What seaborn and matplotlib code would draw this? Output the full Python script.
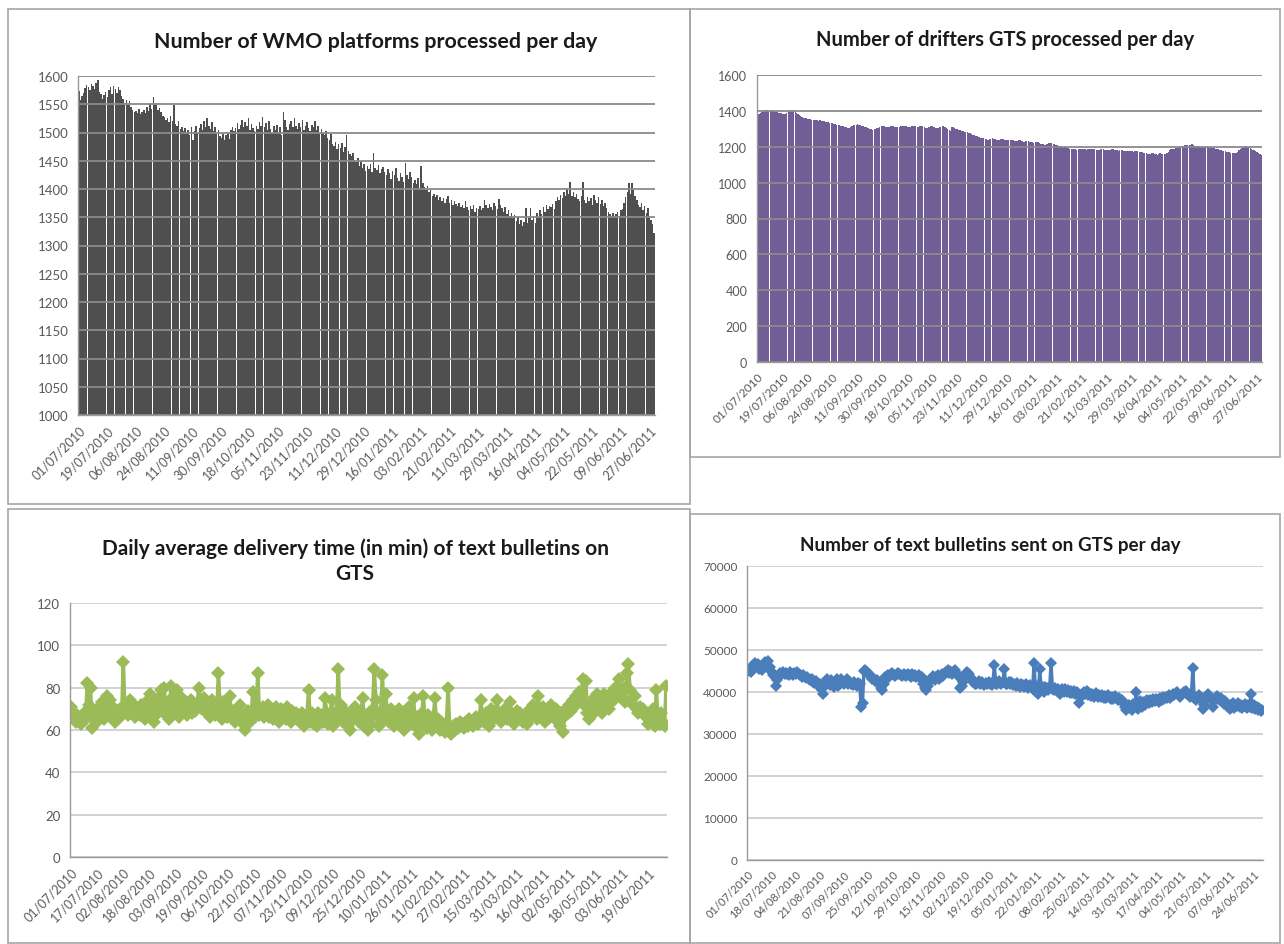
import numpy as np
import pandas as pd
import matplotlib
matplotlib.use('Agg')
import matplotlib.pyplot as plt
import seaborn as sns
from matplotlib.patches import Rectangle

sns.set_style('white')
plt.rcParams['font.family'] = ['Lato', 'DejaVu Sans']

# one value per day, 01/07/2010 - 30/06/2011 (22/09/2010 missing in the source)
days = pd.date_range('2010-07-01', '2011-06-30')
days = days[days != pd.Timestamp('2010-09-22')]
day_labels = list(days.strftime('%d/%m/%Y'))

# number of WMO platforms processed per day
wmo_counts = [
    1573, 1558, 1565, 1570, 1578, 1584, 1580, 1575, 1586, 1582, 1577, 1588, 1593, 1572,
    1568, 1560, 1566, 1571, 1562, 1575, 1580, 1568, 1583, 1577, 1570, 1581, 1576, 1565,
    1560, 1552, 1557, 1548, 1555, 1546, 1540, 1536, 1538, 1534, 1541, 1532, 1537, 1540,
    1535, 1545, 1538, 1550, 1541, 1562, 1548, 1553, 1539, 1544, 1536, 1530, 1528, 1522,
    1525, 1518, 1530, 1521, 1549, 1515, 1512, 1520, 1506, 1510, 1502, 1508, 1498, 1504,
    1495, 1510, 1487, 1503, 1512, 1500, 1508, 1515, 1505, 1520, 1509, 1525, 1511, 1507,
    1518, 1502, 1510, 1497, 1505, 1493, 1490, 1498, 1486, 1495, 1500, 1489, 1505, 1510,
    1502, 1508, 1516, 1507, 1513, 1522, 1509, 1518, 1512, 1525, 1504, 1515, 1508, 1503,
    1511, 1506, 1518, 1512, 1528, 1509, 1516, 1505, 1520, 1507, 1499, 1512, 1504, 1514,
    1500, 1509, 1496, 1537, 1522, 1510, 1505, 1515, 1520, 1509, 1526, 1512, 1506, 1516,
    1510, 1522, 1505, 1512, 1518, 1508, 1502, 1514, 1509, 1521, 1504, 1511, 1498, 1506,
    1500, 1495, 1503, 1490, 1486, 1498, 1480, 1476, 1484, 1470, 1479, 1473, 1482, 1466,
    1475, 1496, 1468, 1462, 1458, 1464, 1452, 1448, 1455, 1440, 1450, 1437, 1445, 1432,
    1440, 1436, 1445, 1430, 1463, 1438, 1433, 1442, 1428, 1435, 1439, 1430, 1425, 1436,
    1429, 1418, 1432, 1424, 1438, 1420, 1415, 1428, 1421, 1412, 1446, 1425, 1418, 1430,
    1422, 1410, 1416, 1408, 1420, 1402, 1440, 1410, 1404, 1398, 1406, 1395, 1400, 1388,
    1392, 1385, 1390, 1380, 1386, 1378, 1384, 1375, 1382, 1388, 1376, 1380, 1372, 1378,
    1374, 1370, 1376, 1368, 1372, 1366, 1378, 1369, 1363, 1370, 1365, 1372, 1360, 1367,
    1364, 1370, 1362, 1366, 1380, 1371, 1366, 1374, 1368, 1362, 1376, 1370, 1365, 1382,
    1372, 1366, 1360, 1368, 1356, 1362, 1352, 1358, 1348, 1354, 1343, 1350, 1338, 1345,
    1335, 1342, 1366, 1340, 1348, 1367, 1345, 1352, 1340, 1358, 1348, 1362, 1355, 1368,
    1360, 1372, 1365, 1370, 1368, 1374, 1365, 1378, 1385, 1380, 1390, 1384, 1395, 1388,
    1400, 1392, 1412, 1388, 1394, 1386, 1392, 1382, 1378, 1388, 1413, 1380, 1375, 1385,
    1378, 1384, 1372, 1390, 1381, 1376, 1386, 1374, 1380, 1370, 1376, 1366, 1360, 1355,
    1352, 1358, 1350, 1355, 1360, 1352, 1362, 1365, 1375, 1385, 1395, 1410, 1392, 1410,
    1398, 1388, 1380, 1372, 1368, 1375, 1362, 1370, 1358, 1366, 1348, 1345, 1338, 1322,
]

# number of drifters GTS processed per day
drifter_counts = [
    1390, 1385, 1388, 1392, 1396, 1400, 1403, 1405, 1402, 1405, 1404, 1400, 1398, 1395,
    1392, 1390, 1388, 1386, 1384, 1383, 1385, 1388, 1392, 1395, 1398, 1400, 1398, 1393,
    1388, 1382, 1376, 1370, 1366, 1362, 1360, 1358, 1356, 1354, 1352, 1351, 1350, 1349,
    1350, 1348, 1346, 1347, 1345, 1343, 1342, 1340, 1338, 1336, 1335, 1333, 1330, 1328,
    1326, 1324, 1322, 1320, 1318, 1316, 1313, 1310, 1308, 1306, 1305, 1310, 1316, 1320,
    1322, 1324, 1325, 1323, 1320, 1318, 1316, 1312, 1308, 1305, 1302, 1300, 1298, 1296,
    1297, 1299, 1302, 1306, 1310, 1314, 1316, 1315, 1312, 1310, 1308, 1310, 1314, 1316,
    1314, 1312, 1310, 1309, 1311, 1314, 1316, 1318, 1316, 1313, 1310, 1308, 1310, 1313,
    1316, 1318, 1315, 1312, 1310, 1313, 1316, 1314, 1310, 1306, 1304, 1308, 1312, 1316,
    1314, 1310, 1305, 1302, 1304, 1308, 1312, 1315, 1313, 1309, 1303, 1298, 1295, 1290,
    1312, 1308, 1304, 1300, 1297, 1294, 1292, 1290, 1288, 1285, 1282, 1280, 1278, 1275,
    1272, 1268, 1265, 1262, 1258, 1255, 1252, 1250, 1248, 1246, 1244, 1242, 1240, 1242,
    1245, 1247, 1244, 1242, 1240, 1238, 1240, 1243, 1245, 1243, 1240, 1238, 1236, 1238,
    1240, 1238, 1235, 1233, 1232, 1234, 1236, 1235, 1232, 1230, 1228, 1230, 1232, 1230,
    1228, 1226, 1224, 1222, 1225, 1227, 1224, 1221, 1218, 1216, 1214, 1212, 1215, 1217,
    1220, 1222, 1219, 1216, 1213, 1210, 1208, 1206, 1204, 1202, 1200, 1198, 1196, 1194,
    1192, 1190, 1188, 1187, 1186, 1185, 1184, 1186, 1188, 1190, 1189, 1187, 1185, 1184,
    1185, 1187, 1189, 1190, 1188, 1186, 1184, 1182, 1183, 1185, 1187, 1186, 1184, 1182,
    1180, 1182, 1184, 1186, 1185, 1183, 1181, 1180, 1178, 1180, 1182, 1180, 1178, 1176,
    1177, 1179, 1178, 1176, 1174, 1172, 1174, 1176, 1174, 1171, 1169, 1168, 1166, 1165,
    1163, 1160, 1158, 1162, 1165, 1163, 1160, 1158, 1156, 1160, 1163, 1161, 1158, 1160,
    1162, 1166, 1172, 1180, 1186, 1190, 1188, 1192, 1195, 1193, 1196, 1200, 1204, 1206,
    1208, 1210, 1207, 1210, 1212, 1218, 1208, 1205, 1203, 1204, 1202, 1200, 1201, 1199,
    1197, 1198, 1200, 1198, 1195, 1196, 1194, 1192, 1190, 1188, 1186, 1183, 1180, 1178,
    1176, 1174, 1172, 1170, 1168, 1166, 1165, 1166, 1165, 1167, 1172, 1180, 1188, 1195,
    1200, 1202, 1204, 1200, 1196, 1192, 1188, 1184, 1180, 1176, 1170, 1164, 1158, 1152,
]

# daily average delivery time (min) of text bulletins on GTS
delivery_minutes = [
    71, 68, 66, 64, 67, 65, 63, 66, 68, 65, 82, 72, 80, 61,
    66, 69, 64, 71, 67, 73, 65, 70, 76, 68, 74, 66, 71, 64,
    68, 65, 70, 67, 92, 69, 72, 67, 74, 70, 68, 66, 71, 69,
    67, 72, 68, 65, 70, 74, 77, 66, 69, 64, 72, 68, 75, 79,
    70, 80, 67, 73, 65, 81, 71, 76, 68, 79, 66, 72, 75, 69,
    73, 67, 70, 74, 68, 71, 69, 72, 80, 73, 70, 75, 71, 68,
    72, 66, 74, 70, 67, 69, 87, 71, 65, 73, 68, 66, 70, 76,
    66, 69, 64, 68, 65, 72, 67, 63, 60, 66, 69, 64, 68, 78,
    66, 70, 87, 67, 69, 71, 66, 68, 72, 66, 70, 65, 68, 71,
    67, 64, 70, 66, 68, 65, 71, 67, 64, 69, 66, 68, 65, 67,
    64, 68, 62, 66, 67, 79, 64, 68, 63, 66, 62, 68, 65, 67,
    64, 75, 68, 63, 66, 74, 62, 68, 65, 89, 70, 72, 64, 69,
    66, 62, 60, 67, 65, 71, 68, 66, 64, 69, 75, 62, 66, 60,
    68, 63, 70, 89, 74, 66, 62, 69, 86, 65, 77, 68, 64, 70,
    66, 62, 68, 64, 70, 63, 66, 60, 68, 65, 71, 63, 67, 75,
    62, 66, 58, 64, 68, 76, 63, 61, 67, 64, 60, 66, 75, 62,
    65, 60, 64, 62, 59, 63, 80, 61, 58, 62, 60, 63, 61, 64,
    62, 63, 61, 64, 62, 65, 63, 62, 64, 66, 63, 65, 74, 67,
    64, 68, 66, 62, 70, 67, 65, 69, 74, 66, 64, 68, 66, 70,
    65, 68, 73, 67, 63, 66, 69, 65, 68, 66, 64, 67, 63, 68,
    70, 66, 72, 68, 65, 76, 69, 66, 71, 64, 67, 70, 66, 72,
    68, 65, 70, 67, 62, 68, 59, 66, 70, 68, 72, 69, 74, 71,
    76, 73, 78, 75, 84, 72, 83, 68, 65, 70, 74, 68, 72, 77,
    70, 74, 68, 77, 72, 75, 70, 73, 78, 74, 80, 76, 84, 78,
    75, 80, 73, 87, 91, 79, 75, 72, 76, 70, 68, 71, 69, 70,
    67, 66, 63, 68, 64, 70, 62, 79, 65, 63, 68, 64, 62, 81,
]

# number of text bulletins sent on GTS per day
bulletin_counts = [
    45000, 45300, 44800, 46000, 46500, 46800, 46200, 46600, 45500, 45800, 45200, 46000, 47200, 46800,
    47500, 45500, 46000, 44800, 44000, 43500, 41500, 42800, 44000, 44500, 44200, 44800, 44300, 44600,
    44400, 44100, 44700, 44300, 44000, 44500, 44200, 44800, 44300, 44000, 43600, 44100, 43800, 43300,
    43500, 43000, 42800, 43200, 42500, 42200, 42600, 41800, 41500, 42000, 40800, 39500, 41200, 42500,
    43000, 42200, 41600, 42800, 41800, 41200, 42400, 43000, 41500, 42000, 43200, 42500, 41800, 42600,
    43000, 41800, 42400, 42000, 41600, 42500, 42000, 41500, 42200, 41800, 36500, 37500, 45000, 45200,
    44800, 44500, 44000, 43600, 43200, 43000, 42600, 42800, 42200, 41800, 41000, 40500, 42000, 43500,
    43800, 44000, 43600, 44200, 44500, 44000, 43800, 44300, 44600, 44200, 44000, 43700, 44400, 44100,
    43900, 44300, 44000, 43600, 44200, 43800, 44100, 43500, 43800, 44000, 43200, 43600, 42000, 41000,
    40500, 41500, 42500, 43000, 43400, 43800, 42800, 43500, 44000, 43200, 43600, 44200, 43800, 44500,
    44800, 45200, 44600, 45000, 44400, 44800, 45200, 44600, 44000, 43500, 41000, 41500, 42500, 43800,
    44500, 44800, 44200, 43600, 43200, 42500, 42000, 41800, 42200, 42600, 41800, 42400, 42000, 41600,
    42200, 41800, 42500, 42000, 41600, 42300, 46500, 42000, 41800, 42600, 42200, 41800, 42500, 45500,
    42000, 41800, 42300, 41900, 42400, 41600, 42000, 41500, 42100, 41700, 41300, 42000, 41600, 41200,
    41800, 41400, 41000, 41600, 41200, 40600, 47000, 40200, 41500, 39500, 45500, 40800, 41200, 40000,
    41200, 41000, 40400, 41200, 46800, 40600, 40500, 40900, 40200, 40700, 39500, 40300, 40800, 40100,
    40600, 40000, 40400, 39800, 40300, 39700, 40200, 39600, 40000, 39200, 37500, 38800, 39500, 40000,
    39600, 40200, 39400, 39800, 39000, 39500, 38800, 39300, 39700, 38900, 39400, 38700, 39200, 38600,
    39000, 38500, 39200, 38700, 38300, 38800, 38400, 39000, 38600, 38200, 38500, 37800, 38200, 37600,
    36500, 35600, 36200, 37000, 36400, 35800, 37200, 36600, 40000, 36000, 37200, 37800, 36500, 37600,
    37000, 37800, 38200, 37400, 38000, 37600, 38300, 37900, 38400, 38000, 37600, 38500, 38100, 38700,
    38300, 38900, 38500, 39200, 38600, 39000, 39600, 39200, 39800, 40000, 39400, 38800, 39300, 39700,
    39900, 40200, 39600, 39200, 38800, 39500, 45800, 38500, 38000, 38800, 39200, 38500, 38000, 36000,
    37000, 38500, 39000, 39500, 38800, 38200, 36500, 37800, 38600, 39000, 38400, 38000, 38600, 37600,
    37200, 37800, 37000, 36500, 36000, 36800, 37400, 36200, 37000, 36600, 37500, 36400, 36900, 36100,
    36700, 37200, 36300, 36800, 36500, 39500, 36200, 36800, 36000, 36500, 35800, 36300, 35500, 35800,
]

bar_tick_labels = ['01/07/2010', '19/07/2010', '06/08/2010', '24/08/2010', '11/09/2010',
                   '30/09/2010', '18/10/2010', '05/11/2010', '23/11/2010', '11/12/2010',
                   '29/12/2010', '16/01/2011', '03/02/2011', '21/02/2011', '11/03/2011',
                   '29/03/2011', '16/04/2011', '04/05/2011', '22/05/2011', '09/06/2011',
                   '27/06/2011']
delay_tick_labels = ['01/07/2010', '17/07/2010', '02/08/2010', '18/08/2010', '03/09/2010',
                     '19/09/2010', '06/10/2010', '22/10/2010', '07/11/2010', '23/11/2010',
                     '09/12/2010', '25/12/2010', '10/01/2011', '26/01/2011', '11/02/2011',
                     '27/02/2011', '15/03/2011', '31/03/2011', '16/04/2011', '02/05/2011',
                     '18/05/2011', '03/06/2011', '19/06/2011']
bulletin_tick_labels = ['01/07/2010', '18/07/2010', '04/08/2010', '21/08/2010', '07/09/2010',
                        '25/09/2010', '12/10/2010', '29/10/2010', '15/11/2010', '02/12/2010',
                        '19/12/2010', '05/01/2011', '22/01/2011', '08/02/2011', '25/02/2011',
                        '14/03/2011', '31/03/2011', '17/04/2011', '04/05/2011', '21/05/2011',
                        '07/06/2011', '24/06/2011']

TXT = '#595959'


def dress(ax, tick_labels, yticks, grid_color, lab_size, grid_on_top=False):
    n = len(day_labels)
    pos = [day_labels.index(t) for t in tick_labels]
    ax.set_xticks(pos)
    ax.set_xticklabels(tick_labels, rotation=45, ha='right', rotation_mode='anchor',
                       fontsize=lab_size, color=TXT)
    ax.set_xticks(range(n), minor=True)
    ax.set_xlim(-0.5, n - 0.5)
    ax.set_yticks(yticks)
    ax.set_yticklabels([str(v) for v in yticks], fontsize=lab_size + 0.5, color=TXT)
    ax.set_ylim(yticks[0], yticks[-1])
    ax.tick_params(axis='x', which='both', length=4, width=0.8, color='#9a9a9a', pad=2)
    ax.tick_params(axis='y', length=4, width=0.8, color='#9a9a9a', pad=3)
    ax.set_axisbelow(not grid_on_top)
    ax.yaxis.grid(True, color=grid_color, lw=1.3)
    ax.xaxis.grid(False)
    for s in ['top', 'right']:
        ax.spines[s].set_visible(False)
    for s in ['left', 'bottom']:
        ax.spines[s].set_color('#9a9a9a')
        ax.spines[s].set_linewidth(1)
    ax.set_xlabel('')
    ax.set_ylabel('')


fig = plt.figure(figsize=(12.84, 9.45), dpi=100)

# panel frames
for x0, y0, x1, y1 in [(8, 10, 690, 505), (690, 10, 1280, 458), (8, 510, 690, 944), (690, 515, 1280, 944)]:
    fig.patches.append(Rectangle((x0 / 1284, 1 - y1 / 945), (x1 - x0) / 1284, (y1 - y0) / 945,
                                 transform=fig.transFigure, fill=False, ec='#a6a6a6', lw=1.2))

# top left: WMO platforms
ax1 = fig.add_axes([78 / 1284, 1 - 416 / 945, 577 / 1284, 339 / 945])
sns.barplot(x=day_labels, y=wmo_counts, color='#4f4f4f', saturation=1, width=0.93,
            linewidth=0, errorbar=None, ax=ax1)
dress(ax1, bar_tick_labels, list(range(1000, 1601, 50)), '#8a8a8a', 9, grid_on_top=True)
fig.text(376 / 1284, 1 - 42 / 945, 'Number of WMO platforms processed per day',
         ha='center', va='center', fontsize=15.4, fontweight='bold', color='#1a1a1a')

# top right: drifters
ax2 = fig.add_axes([757 / 1284, 1 - 363 / 945, 505 / 1284, 287 / 945])
sns.barplot(x=day_labels, y=drifter_counts, color='#725e96', saturation=1, width=0.93,
            linewidth=0, errorbar=None, ax=ax2)
dress(ax2, bar_tick_labels, list(range(0, 1601, 200)), '#8a8a8a', 8.5, grid_on_top=True)
fig.text(1005 / 1284, 1 - 40 / 945, 'Number of drifters GTS processed per day',
         ha='center', va='center', fontsize=14.5, fontweight='bold', color='#1a1a1a')

# bottom left: delivery time
ax3 = fig.add_axes([70 / 1284, 1 - 858 / 945, 597 / 1284, 254 / 945])
sns.lineplot(x=np.arange(len(day_labels)), y=delivery_minutes, color='#9bbb59', lw=2.6,
             marker='D', markersize=7, markeredgewidth=0, ax=ax3)
dress(ax3, delay_tick_labels, list(range(0, 121, 20)), '#cfcfcf', 9)
fig.text(355 / 1284, 1 - 561 / 945, 'Daily average delivery time (in min) of text bulletins on\nGTS',
         ha='center', va='center', fontsize=15, fontweight='bold', color='#1a1a1a', linespacing=1.3)

# bottom right: text bulletins
ax4 = fig.add_axes([747 / 1284, 1 - 861 / 945, 516 / 1284, 294 / 945])
sns.lineplot(x=np.arange(len(day_labels)), y=bulletin_counts, color='#4a7ebb', lw=2.4,
             marker='D', markersize=6, markeredgewidth=0, ax=ax4)
dress(ax4, bulletin_tick_labels, list(range(0, 70001, 10000)), '#cfcfcf', 8)
fig.text(990 / 1284, 1 - 545 / 945, 'Number of text bulletins sent on GTS per day',
         ha='center', va='center', fontsize=13.6, fontweight='bold', color='#1a1a1a')

fig.savefig('out.png', dpi=100)
